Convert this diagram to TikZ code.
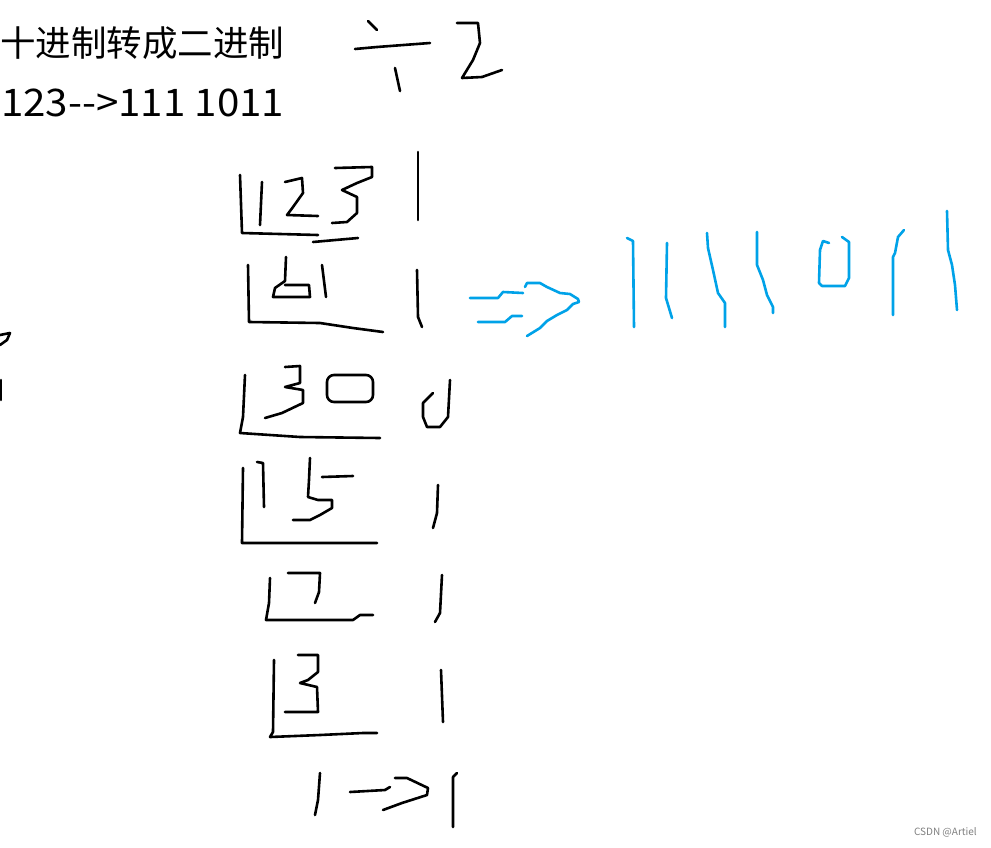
\documentclass[tikz,border=0pt]{standalone}
\usepackage{fontspec}
\newfontfamily\cjk{Noto Sans CJK SC}
\usetikzlibrary{positioning}
\definecolor{paintblue}{RGB}{0,162,232}
\tikzset{
  pen/.style={black, line width=2.6pt, line cap=round, line join=round},
  bluepen/.style={paintblue, line width=2.6pt, line cap=round, line join=round}
}

\begin{document}
\begin{tikzpicture}[x=1pt, y=-1pt]
    \useasboundingbox (0,0) rectangle (991,847);
    \fill[white] (0,0) rectangle (991,847);

    % Typed text
    \node[anchor=west, inner sep=0pt, font=\cjk\fontsize{35.5}{40}\selectfont] (title) at (0,43) {十进制转成二进制};
    \node[anchor=west, inner sep=0pt, font=\cjk\fontsize{38}{44}\selectfont] (example) at (1,103) {\scalebox{1.06}[1]{123-->111 1011}};
    \node[anchor=east, inner sep=0pt, gray, font=\cjk\fontsize{10}{12}\selectfont] (mark) at (977,832) {CSDN @Artiel};

    % Division sign and divisor
    \draw[pen] (368,21) -- (377,30);
    \draw[pen] (355,49) -- (377,47) -- (430,43);
    \draw[pen] (395,68) -- (400,91);
    \draw[pen] (457,23) -- (478,23) -- (480,43) -- (473,60) -- (462,78) -- (482,77) -- (502,70);

    % 123
    \draw[pen] (240,175) -- (242,233) -- (318,235);
    \draw[pen] (262,182) -- (260,225);
    \draw[pen] (285,182) -- (302,178) -- (303,193) -- (293,207) -- (287,215) -- (318,216);
    \draw[pen] (335,168) -- (372,167) -- (372,177) -- (357,183) -- (342,190) -- (357,197) -- (357,213) -- (347,222) -- (332,223);
    \draw[pen] (313,242) -- (358,238);
    \draw[pen] (418,152) -- (418,220);

    % 61
    \draw[pen] (248,265) -- (249,322) -- (320,323) -- (353,328) -- (383,332);
    \draw[pen] (286,257) -- (285,281) -- (275,288) -- (273,297) -- (310,297) -- (309,285) -- (285,285);
    \draw[pen] (322,265) -- (326,297);
    \draw[pen] (417,270) -- (418,317) -- (422,327);

    % 30
    \draw[pen] (245,375) -- (243,417) -- (240,433) -- (300,437) -- (380,438);
    \draw[pen] (285,367) -- (300,366) -- (300,383) -- (285,387) -- (303,390) -- (303,403) -- (282,413) -- (265,418);
    \draw[pen, rounded corners=7pt] (327,375) rectangle (373,402);
    \draw[pen] (450,380) -- (448,417) -- (440,427) -- (427,427) -- (423,417) -- (423,403) -- (433,393);

    % 15
    \draw[pen] (243,468) -- (242,543) -- (377,543);
    \draw[pen] (257,462) -- (263,463) -- (264,507);
    \draw[pen] (322,477) -- (353,476);
    \draw[pen] (310,458) -- (309,480) -- (308,497) -- (318,500) -- (332,500) -- (332,508) -- (320,515) -- (310,520) -- (293,520);
    \draw[pen] (438,485) -- (437,513) -- (433,528);

    % 7
    \draw[pen] (270,578) -- (269,603) -- (266,620) -- (353,620) -- (360,615) -- (373,615);
    \draw[pen] (288,573) -- (320,573) -- (319,592) -- (315,603);
    \draw[pen] (442,575) -- (440,613) -- (435,622);

    % 3
    \draw[pen] (274,660) -- (273,732) -- (270,737) -- (320,735) -- (363,733) -- (377,733);
    \draw[pen] (298,655) -- (318,655) -- (318,672) -- (308,680) -- (300,683) -- (317,687) -- (318,712) -- (285,712);
    \draw[pen] (441,670) -- (443,722);

    % 1 --> 1
    \draw[pen] (320,773) -- (318,800) -- (315,815);
    \draw[pen] (350,792) -- (385,790) -- (390,787);
    \draw[pen] (395,778) -- (407,778) -- (428,788) -- (427,795) -- (402,803) -- (383,810);
    \draw[pen] (457,773) -- (453,777) -- (453,827);

    % Left edge marks
    \draw[pen] (0,335) -- (10,333) -- (7,340) -- (0,345);
    \draw[pen] (1,380) -- (1,400);

    % Blue arrow
    \draw[bluepen] (470,298) -- (498,298) -- (503,292) -- (523,293);
    \draw[bluepen] (478,322) -- (505,322) -- (512,316) -- (522,316);
    \draw[bluepen] (525,287) -- (527,283) -- (540,283) -- (547,287) -- (560,293) -- (570,294) -- (578,299) -- (579,302) -- (573,304) -- (567,310) -- (557,315) -- (547,321) -- (540,328) -- (527,336);

    % Result 1111011
    \draw[bluepen] (627,238) -- (633,241) -- (634,327);
    \draw[bluepen] (667,243) -- (666,298) -- (672,318);
    \draw[bluepen] (707,233) -- (708,248) -- (713,270) -- (718,293) -- (725,303) -- (725,327);
    \draw[bluepen] (757,232) -- (757,265) -- (763,280) -- (767,295) -- (773,307) -- (773,313);
    \draw[bluepen] (829,243) -- (823,241) -- (820,250) -- (819,283) -- (822,286) -- (845,286) -- (849,278) -- (849,242) -- (842,237);
    \draw[bluepen] (904,230) -- (898,237) -- (895,253) -- (893,257) -- (893,315);
    \draw[bluepen] (947,211) -- (948,250) -- (952,265) -- (955,285) -- (957,310);
\end{tikzpicture}
\end{document}
